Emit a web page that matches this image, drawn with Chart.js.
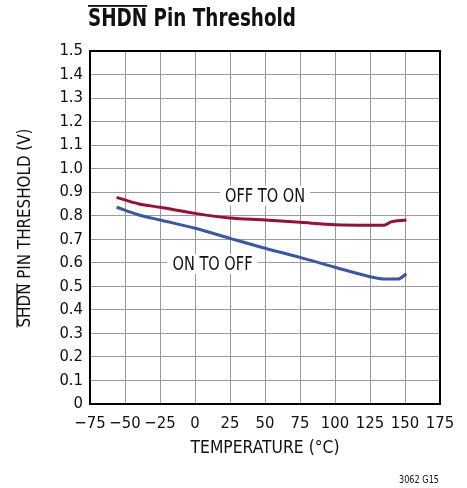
<!DOCTYPE html>
<html><head><meta charset="utf-8">
<script src="https://cdn.jsdelivr.net/npm/chart.js@4"></script>
<style>html,body{margin:0;padding:0;background:#fff}#wrap{width:467px;height:488px;position:relative}</style>
</head><body><div id="wrap"><canvas id="c" width="467" height="488"></canvas></div>
<script>
const offToOnT = [-56, -40, -25, 0, 25, 50, 75, 100, 125, 135, 140, 151];
const offToOnV = [0.878, 0.850, 0.836, 0.810, 0.790, 0.782, 0.772, 0.762, 0.760, 0.760, 0.774, 0.782];
const onToOffT = [-56, -40, -25, 0, 25, 50, 75, 100, 125, 135, 145, 151];
const onToOffV = [0.836, 0.803, 0.782, 0.747, 0.704, 0.662, 0.623, 0.581, 0.541, 0.531, 0.531, 0.553];
const xTicks = [-75, -50, -25, 0, 25, 50, 75, 100, 125, 150, 175];
const yTicks = [0, 0.1, 0.2, 0.3, 0.4, 0.5, 0.6, 0.7, 0.8, 0.9, 1.0, 1.1, 1.2, 1.3, 1.4, 1.5];
const labels = [
  {text: 'OFF TO ON', t: 50, v: 0.885},
  {text: 'ON TO OFF', t: 12.5, v: 0.595}
];
const FONT = '"Liberation Sans Narrow", "DejaVu Sans Condensed", "Liberation Sans", sans-serif';
const RED = '#9b0f37', BLUE = '#3a56a8';

function pts(t, v) { return t.map((x, i) => ({x: x, y: v[i]})); }

function narrowText(ctx, text, x, y, font, width, align) {
  ctx.save();
  ctx.font = font;
  ctx.textAlign = 'left';
  ctx.textBaseline = 'middle';
  const w = ctx.measureText(text).width;
  const s = width / w;
  let x0 = x;
  if (align === 'center') x0 = x - width / 2;
  else if (align === 'right') x0 = x - width;
  ctx.translate(x0, y);
  ctx.scale(s, 1);
  ctx.fillText(text, 0, 0);
  ctx.restore();
  return {x0: x0, s: s, w: w};
}

const textPlugin = {
  id: 'texts',
  beforeDatasetsDraw(chart) {
    const {ctx, scales: {x, y}} = chart;
    ctx.save();
    labels.forEach(l => {
      const px = x.getPixelForValue(l.t), py = y.getPixelForValue(l.v);
      ctx.fillStyle = '#fff';
      ctx.fillRect(px - 45, py - 10, 90, 20);
      ctx.fillStyle = '#111';
      narrowText(ctx, l.text, px, py + 1, '19px ' + FONT, 80, 'center');
    });
    ctx.restore();
  },
  afterDraw(chart) {
    const {ctx, chartArea: a} = chart;
    ctx.save();
    ctx.strokeStyle = '#000';
    ctx.lineWidth = 2;
    ctx.strokeRect(a.left, a.top, a.right - a.left, a.bottom - a.top);
    ctx.fillStyle = '#111';
    const tfont = 'bold 25px ' + FONT;
    const r = narrowText(ctx, 'SHDN Pin Threshold', 88, 19, tfont, 208, 'left');
    ctx.font = tfont;
    const sw = ctx.measureText('SHDN').width * r.s;
    ctx.fillRect(88, 5, sw, 1.8);
    ctx.save();
    ctx.translate(26, 228);
    ctx.rotate(-Math.PI / 2);
    const yfont = '17px ' + FONT;
    const ry = narrowText(ctx, 'SHDN PIN THRESHOLD (V)', 0, 0, yfont, 199, 'center');
    ctx.font = yfont;
    const s2 = ctx.measureText('SHDN').width * ry.s;
    ctx.fillRect(-199 / 2, -9.6, s2, 1.3);
    ctx.restore();
    narrowText(ctx, 'TEMPERATURE (\u00B0C)', (a.left + a.right) / 2, 448, '18px ' + FONT, 149, 'center');
    narrowText(ctx, '3062 G15', 439, 480, '11px ' + FONT, 40, 'right');
    ctx.restore();
  }
};

new Chart(document.getElementById('c'), {
  type: 'scatter',
  data: {
    datasets: [
      {label: 'OFF TO ON', data: pts(offToOnT, offToOnV), showLine: true, borderColor: RED, borderWidth: 3, pointRadius: 0, cubicInterpolationMode: 'monotone'},
      {label: 'ON TO OFF', data: pts(onToOffT, onToOffV), showLine: true, borderColor: BLUE, borderWidth: 3, pointRadius: 0, cubicInterpolationMode: 'monotone'}
    ]
  },
  options: {
    responsive: false,
    animation: false,
    layout: {padding: {left: 0, right: 27, top: 51, bottom: 0}},
    plugins: {legend: {display: false}, tooltip: {enabled: false}, title: {display: false}},
    scales: {
      x: {
        type: 'linear', min: -75, max: 175,
        afterBuildTicks: s => { s.ticks = xTicks.map(v => ({value: v})); },
        afterFit: s => { s.height = 84; },
        ticks: {color: '#111', font: {family: FONT, size: 16.5}, padding: 10,
          autoSkip: false, maxRotation: 0, minRotation: 0,
          callback: v => (v < 0 ? '\u2212' + Math.abs(v) : String(v))},
        grid: {color: '#9a9a9a', lineWidth: 1, drawTicks: false},
        border: {display: false}
      },
      y: {
        type: 'linear', min: 0, max: 1.5,
        afterBuildTicks: s => { s.ticks = yTicks.map(v => ({value: v})); },
        afterFit: s => { s.width = 90; },
        ticks: {color: '#111', font: {family: FONT, size: 16.5}, padding: 7, autoSkip: false,
          callback: v => (v === 0 ? '0' : v.toFixed(1))},
        grid: {color: '#9a9a9a', lineWidth: 1, drawTicks: false},
        border: {display: false}
      }
    }
  },
  plugins: [textPlugin]
});
</script></body></html>
